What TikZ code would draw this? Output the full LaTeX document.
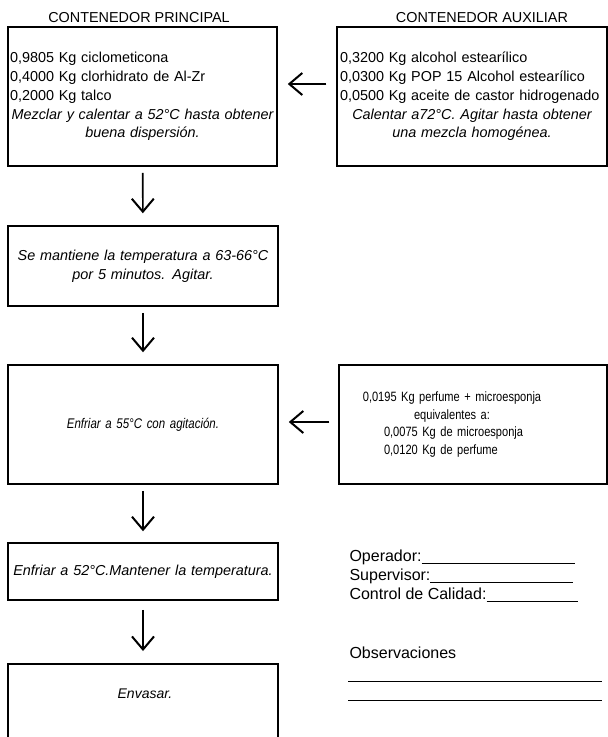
\documentclass[tikz,border=0pt]{standalone}
\usepackage{fontspec}
\setmainfont{Liberation Sans}
\newfontfamily\angosta[FakeStretch=0.82]{Liberation Sans}
\usetikzlibrary{arrows.meta}

\begin{document}
\begin{tikzpicture}[x=1pt,y=-1pt,
	caja/.style={draw,line width=1.5pt,inner sep=2pt,font=\fontsize{14.4}{18.8}\selectfont},
	flecha/.style={line width=1.6pt,-{Straight Barb[length=13pt,width=22pt,line width=2pt]}},
	titulo/.style={font=\fontsize{14.4}{17}\selectfont},
	firma/.style={font=\fontsize{16}{19}\selectfont,align=left,anchor=west},
	raya/.style={line width=0.8pt}]
	\useasboundingbox (0,0) rectangle (608,737);
	\clip (0,0) rectangle (608,737);

	% Titles
	\node[titulo] (tprin) at (139,18) {CONTENEDOR PRINCIPAL};
	\node[titulo] (taux) at (482,18) {CONTENEDOR AUXILIAR};

	% Left column
	\node[caja,text width=265pt,minimum height=139pt,align=left] (prin) at (142.5,96.5)
		{0,9805 Kg ciclometicona\\ 0,4000 Kg clorhidrato de Al-Zr\\ 0,2000 Kg talco\par
		{\centering\itshape Mezclar y calentar a 52°C hasta obtener\\ buena dispersión.\par}};
	\node[caja,text width=266pt,minimum height=80pt,align=center] (mant) at (143,266)
		{\itshape Se mantiene la temperatura a 63-66°C\\ por 5 minutos. Agitar.};
	\node[caja,text width=266pt,minimum height=119pt,align=center,font=\angosta\fontsize{14}{18}\selectfont] (enfria) at (143,424.5)
		{\itshape Enfriar a 55°C con agitación.};
	\node[caja,text width=266pt,minimum height=57pt,align=center] (enfria52) at (143,571.5)
		{\itshape Enfriar a 52°C.Mantener la temperatura.};
	\node[caja,minimum width=270pt,minimum height=150pt,anchor=north] (envase) at (143,663) {};
	\node[font=\fontsize{14}{18}\selectfont\itshape] (envasar) at (145,694) {Envasar.};

	% Right column
	\node[caja,text width=264pt,inner xsep=3pt,minimum height=139pt,align=left] (aux) at (472,96.5)
		{0,3200 Kg alcohol estearílico\\ 0,0300 Kg POP 15 Alcohol estearílico\\ 0,0500 Kg aceite de castor hidrogenado\par
		{\centering\itshape Calentar a72°C. Agitar hasta obtener\\ una mezcla homogénea.\par}};
	\node[caja,text width=264pt,minimum height=119pt,align=left,font=\angosta\fontsize{13.5}{17.5}\selectfont] (perf) at (473,424.5)
		{{\centering\rightskip=42pt plus 1fil 0,0195 Kg perfume + microesponja\\ equivalentes a:\par}
		{\leftskip=43pt 0,0075 Kg de microesponja\\ 0,0120 Kg de perfume\par}};

	% Arrows
	\draw[flecha,shorten <=10pt,shorten >=10pt] ([yshift=12.5pt]aux.west) -- ([yshift=12.5pt]prin.east);
	\draw[flecha,shorten <=9pt,shorten >=10pt] ([yshift=2.5pt]perf.west) -- ([yshift=2.5pt]enfria.east);
	\draw[flecha,shorten <=6pt,shorten >=12pt] (prin) -- (mant);
	\draw[flecha,shorten <=6pt,shorten >=12pt] (mant) -- (enfria);
	\draw[flecha,shorten <=6pt,shorten >=11pt] (enfria) -- (enfria52);
	\draw[flecha,shorten <=9pt,shorten >=12pt] (enfria52) -- (envase);

	% Signatures
	\node[firma] (firmas) at (346,576)
		{Operador:\rule[-2pt]{153pt}{0.7pt}\\ Supervisor:\rule[-2pt]{143pt}{0.7pt}\\ Control de Calidad:\rule[-2pt]{91pt}{0.7pt}};
	\node[firma] (obs) at (346,653) {Observaciones};
	\foreach \y in {681,700}
		\draw[raya] (348,\y) -- (602,\y);
\end{tikzpicture}
\end{document}
